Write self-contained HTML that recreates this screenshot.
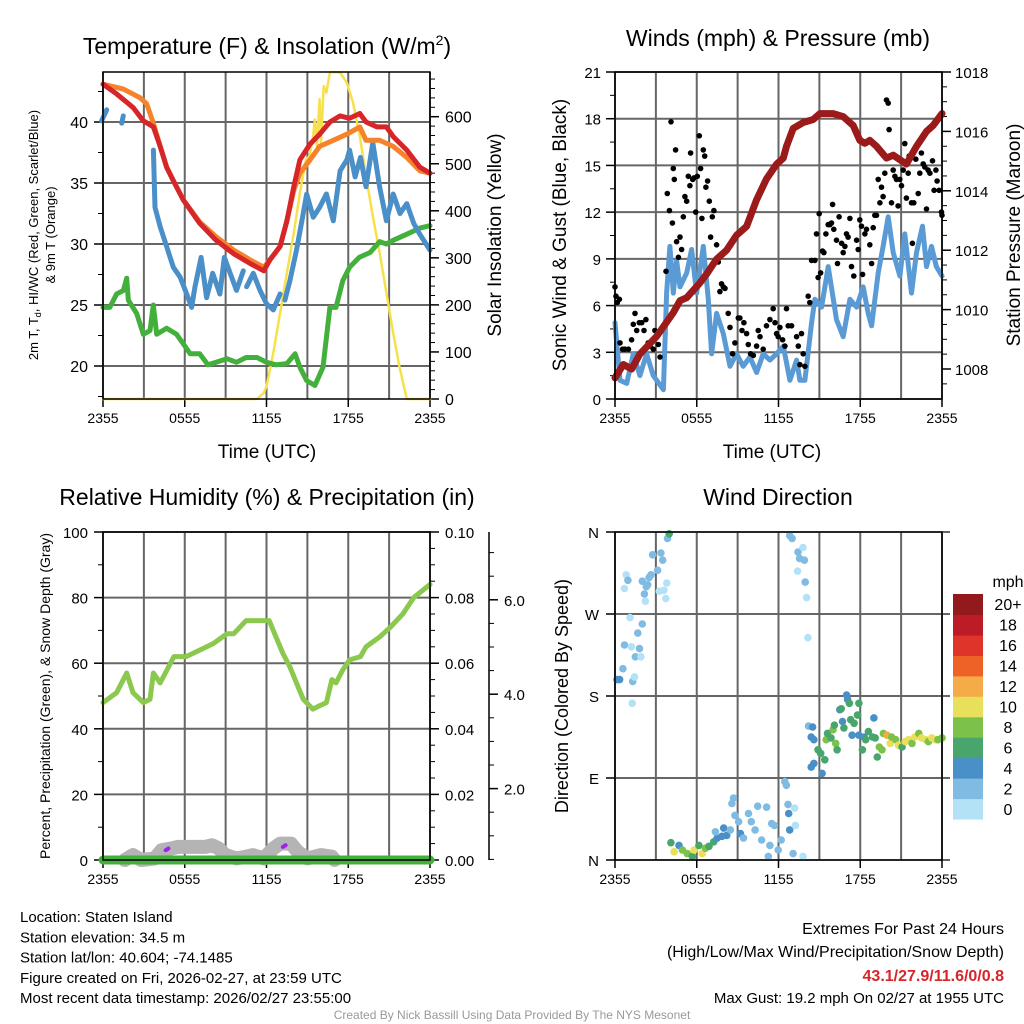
<!DOCTYPE html>
<html><head><meta charset="utf-8"><style>
html,body{margin:0;padding:0;background:#fff;}
svg{display:block;font-family:"Liberation Sans",sans-serif;}
</style></head><body>
<svg id="fig" xmlns="http://www.w3.org/2000/svg" width="1024" height="1024" viewBox="0 0 1024 1024"></svg>
<script>
// ---------- DATA ----------
// Panel 1: temperature
const tRed=[0,1.0,2.2,2.96,3.7,4.2,4.67,5.16,5.9,7.1,8.3,9.6,10.8,11.8,12.25,13.0,13.5,14.0,14.45,15.2,15.9,16.65,17.4,18.1,18.85,19.3,20.1,20.8,21.3,22.3,23.25,24];
const vRed=[43.1,42.3,41.2,40.1,39.6,38,36.3,35.2,33.6,31.7,30.3,29.2,28.4,27.8,28.7,29.8,31.9,34.7,36.9,38.2,39,40,40.5,40.3,40.7,40,39.6,39.6,38.8,37.7,36.3,35.8];
const tOrange=[0,1.5,2.7,3.2,3.7,4.2,4.67,5.16,5.9,7.1,8.3,9.6,10.8,11.8,12.25,13.0,13.5,14.0,14.45,15.2,15.9,16.9,17.9,18.85,19.3,20.3,21.3,22.3,23.25,24];
const vOrange=[43.1,42.7,42,41.5,39.9,38,36.3,35.2,33.6,31.8,30.6,29.5,28.7,28.1,28.7,29.8,31.9,34.4,35.8,36.9,38,38.5,39,39.6,38.5,38.5,38,37.1,36,35.8];
const tBlue=[-0.1,0.27,null,1.37,1.49,null,2.22,null,3.7,3.82,4.2,4.67,5.16,5.65,6.14,6.5,6.75,7.2,7.6,8.05,8.58,8.9,9.8,10.3,null,10.54,11.03,11.52,12.0,12.5,13.0,null,13.35,13.72,14.2,14.6,14.95,15.43,15.9,16.4,16.9,17.4,17.9,18.1,18.5,18.9,19.3,19.8,20.3,20.8,21.3,21.8,22.3,22.8,23.25,24];
const vBlue=[40.1,41,null,39.9,40.5,null,39.3,null,37.7,33,31.4,29.8,28.1,27.3,25.9,24.8,26.5,28.9,25.6,27.6,25.9,28.9,26.2,27.8,null,26.5,27.6,26.2,25.1,24.6,25.9,null,25.4,27,29.5,31.9,34.1,32.2,33,34.1,31.9,36,36.9,37.7,35.5,37.1,34.7,38.3,34.7,31.9,34.1,32.5,33.3,31.7,30.8,29.5];
const tGreen=[0,0.5,1.0,1.5,1.74,1.86,2.47,2.96,3.45,3.69,3.94,4.67,5.4,5.9,6.4,7.1,7.7,8.3,9.1,9.8,10.5,11.3,12.0,12.7,13.5,14.1,14.45,14.95,15.55,16.15,16.65,17.1,17.6,18.1,18.8,19.6,20.3,20.8,21.3,22.3,23.25,24];
const vGreen=[24.8,24.8,25.9,26.2,27.2,25.4,24.3,22.6,22.9,25,22.6,23.1,22.6,21.8,21,21,20.1,20.3,20.6,20.3,20.7,20.7,20.3,20.1,20.2,21,19.9,18.8,18.4,19.9,24.8,24.8,27,28.1,28.9,29.3,30.2,30,30.3,30.8,31.3,31.5];
const tSolar=[0,11.3,11.8,12.0,12.5,13.0,13.5,14.0,14.45,14.9,15.15,15.4,15.55,15.7,15.9,16.0,16.2,16.4,16.65,16.9,17.4,17.9,18.35,18.85,19.3,19.8,20.3,20.8,21.3,21.75,22.3,24];
const vSolar=[0,0,13,27,98,183,268,353,438,509,516,552,594,538,637,545,665,651,694,695,694,672,630,559,474,389,311,226,140,70,0,0];
const p1Left=[20,25,30,35,40];
const p1Right=[0,100,200,300,400,500,600];
const timeTicks=[0,6,12,18,24];
const timeLabels=["2355","0555","1155","1755","2355"];
// Panel 2: winds & pressure
const tPres=[0,0.61,1.22,1.83,3.06,4.28,4.77,5.26,6.23,6.72,7.46,8.19,8.92,9.66,10.39,11.12,11.86,12.35,12.59,13.08,13.81,14.55,15.04,16.01,16.75,17.48,17.97,18.34,18.7,19.19,19.93,20.42,21.39,22.13,22.86,23.35,24];
const vPres=[1007.7,1008.15,1008.0,1008.5,1009.1,1009.9,1010.3,1010.4,1010.9,1011.2,1011.7,1012.0,1012.5,1012.8,1013.7,1014.4,1014.9,1015.1,1015.5,1016.1,1016.3,1016.4,1016.6,1016.6,1016.5,1016.2,1015.7,1015.6,1015.7,1015.5,1015.1,1015.2,1014.9,1015.5,1016.0,1016.2,1016.6];
const tWind=[0,0.37,0.86,1.34,1.83,2.32,2.81,3.55,3.79,4.03,4.28,4.52,4.77,5.26,5.62,5.99,6.48,6.85,7.09,7.46,7.95,8.44,8.92,9.41,9.9,10.39,10.88,11.37,11.86,12.35,12.84,13.33,13.57,13.94,14.43,14.67,15.16,15.65,16.26,16.75,17.24,17.73,18.22,18.58,18.83,19.32,19.68,20.05,20.42,20.91,21.27,21.76,22.13,22.57,22.86,23.23,23.59,24];
const vWind=[4.9,1.2,1.0,2.9,1.5,2.9,1.5,0.6,6.8,9.8,6.8,8.9,7.2,8.1,9.6,6.8,9.8,6.4,2.9,5.5,4.2,2.1,2.9,2.1,2.7,1.7,2.9,2.5,2.9,3.4,1.2,2.5,1.2,1.2,4.9,6.4,5.9,8.5,5.1,4.0,6.4,5.9,7.2,5.5,4.7,8.1,9.8,11.7,9.4,7.9,10.6,6.8,9.4,11.1,8.5,9.8,8.5,7.9];
const tGust=[0,0.07,0.17,0.32,0.37,0.56,0.73,0.98,1.22,1.34,1.47,1.59,1.78,1.96,2.13,2.27,2.44,2.57,2.81,2.93,3.18,3.3,3.74,3.84,3.99,4.11,4.21,4.28,4.35,4.45,4.52,4.65,4.77,4.89,5.01,5.13,5.26,5.38,5.5,5.55,5.7,5.79,5.92,6.04,6.19,6.28,6.38,6.48,6.58,6.67,6.8,6.92,7.02,7.14,7.26,7.46,7.58,7.7,7.82,7.95,8.07,8.31,8.44,8.63,8.8,9.05,9.17,9.32,9.46,9.66,9.78,9.95,10.15,10.39,10.51,10.64,10.88,11.12,11.37,11.61,11.74,11.86,11.98,12.1,12.3,12.47,12.59,12.71,12.96,13.33,13.45,13.57,13.69,13.81,13.94,14.18,14.3,14.43,14.67,14.79,14.91,14.99,15.09,15.23,15.33,15.48,15.65,15.77,15.89,15.97,16.06,16.26,16.33,16.45,16.63,16.75,16.87,16.99,17.11,17.24,17.36,17.53,17.73,17.85,17.97,18.09,18.17,18.34,18.46,18.7,18.83,18.95,19.07,19.19,19.32,19.44,19.56,19.68,19.8,19.93,20.05,20.12,20.29,20.42,20.54,20.66,20.78,20.9,21.03,21.15,21.27,21.39,21.52,21.59,21.76,21.83,21.93,22.08,22.25,22.37,22.49,22.62,22.74,22.86,22.98,23.11,23.3,23.42,23.55,23.64,23.79,23.96,24.0];
const vGust=[7.2,6.6,6.2,6.4,3.6,3.2,3.2,3.2,3.8,4.8,5.5,4.4,4.9,4.9,4.4,5.1,3.6,3.4,3.2,4.4,3.5,2.7,8.2,13.2,12.1,17.8,11.3,14.8,14.1,16.0,10.1,9.1,10.4,9.6,11.7,13.0,12.7,14.3,13.7,15.8,14.1,14.2,12.0,14.3,16.9,14.8,11.6,16.0,15.6,13.6,14.0,12.7,10.4,11.7,12.1,9.9,8.8,6.9,7.4,7.2,7.1,5.5,4.6,2.9,3.6,5.2,5.2,4.4,4.9,4.2,3.5,2.9,2.8,3.4,4.4,4.0,3.2,4.7,5.1,5.8,4.9,4.2,4.0,4.6,3.8,3.4,5.8,4.7,4.7,4.0,3.4,2.2,4.2,2.9,2.1,6.6,6.2,8.9,8.9,10.6,7.8,11.9,8.1,9.5,9.4,10.6,11.2,11.2,11.3,12.5,10.9,10.2,8.7,11.7,10.0,9.4,9.8,10.6,10.4,11.6,8.5,7.9,10.2,9.6,11.5,11.1,8.0,10.6,10.9,9.9,8.7,11.0,11.8,11.8,14.1,12.6,13.6,13.0,14.5,19.2,19.0,17.3,12.6,14.7,14.3,14.1,12.4,14.1,13.7,14.7,16.4,12.9,14.5,15.6,12.6,10.0,12.6,15.4,13.2,14.5,15.8,15.1,14.9,12.2,14.7,14.5,15.3,13.4,14.7,14.0,13.4,12.0,11.8];
const p2Left=[0,3,6,9,12,15,18,21];
const p2Right=[1008,1010,1012,1014,1016,1018];
// Panel 3: RH, precip, snow
const tRH=[0,1.0,1.74,2.2,2.96,3.45,3.7,4.2,5.2,6.1,7.1,8.1,9.1,9.6,10.5,11.5,12.2,12.7,13.2,13.7,14.2,14.7,15.4,15.9,16.4,16.8,17.1,17.6,18.1,18.9,19.3,20.3,21.1,22.0,22.8,24];
const vRH=[48,51,57,51,48,49,57,54,62,62,64,66,69,69,73,73,73,68,63,59,54,49,46,47,48,55,54,58,61,62,65,68,71,75,80,84];
const tSnow=[1.6,2.2,2.8,3.8,4.3,5,5.5,6.5,7.5,8,8.5,9,9.8,10.5,11,11.8,12.5,13,13.8,14.3,15,16,16.8,17.0];
const vSnow=[0,1.5,0,0.5,3,3.5,4,4,4,4.5,3.5,1.5,0.5,1,1.5,0.5,3.5,5,5,2.5,0.5,1.5,1,0];
const tPrecip=[0,24];
const vPrecip=[0,0];
const tPurple=[4.6,13.2];
const vPurple=[3,4];
const p3Left=[0,20,40,60,80,100];
const p3Right=["0.00","0.02","0.04","0.06","0.08","0.10"];
const p3Snow=[2,4,6];
// Panel 4: wind direction
const tDir=[0.15,0.34,0.58,0.7,1.1,1.2,1.3,1.26,1.43,1.5,1.67,1.8,1.9,2.0,0.82,0.95,0.7,2.16,2.23,2.4,2.64,2.76,3.13,3.25,3.37,3.5,3.6,3.73,3.8,3.85,3.98,2.0,2.3,2.5,
 4.1,4.34,4.7,4.95,5.3,5.67,5.8,6.16,6.4,6.64,6.9,7.25,7.5,7.37,7.85,7.98,8.2,8.46,8.7,8.58,8.8,9.07,9.2,9.43,9.8,10.0,10.28,10.47,10.76,11.13,11.25,11.37,11.5,11.7,11.98,12.2,12.46,12.58,12.7,12.75,12.82,13.07,13.19,13.24,13.8,
 12.82,13.0,13.43,13.55,13.8,13.9,13.4,13.96,14.06,14.16,
 14.2,14.5,14.4,14.6,14.9,15.1,14.4,14.6,15.2,15.4,15.5,15.6,15.85,16.0,16.1,16.2,16.3,16.5,16.6,16.7,16.8,17.0,17.07,17.2,17.3,17.4,17.55,17.8,17.9,17.9,18.16,18.3,18.4,18.6,18.9,19.0,19.1,19.25,19.4,19.6,19.7,19.97,20.2,20.3,20.6,20.8,21.07,21.3,21.55,21.8,22.0,22.3,22.5,22.8,23.0,23.25,23.5,23.7,24.0];
const vDir=[198,198,210,236,266,234,196,172,201,223,249,232,223,259,313,307,298,292,284,302,313,335,318,295,337,329,296,287,304,353,358,306,300,310,
 19,9,16,11,7,4,11,16,7,13,15,20,24,31,26,35,27,33,68,62,49,42,29,24,51,42,33,59,22,58,4,16,40,38,11,22,86,82,61,51,33,7,57,38,4,
 356,353,338,331,343,329,317,305,288,244,
 147,146,135,132,121,117,102,106,95,110,132,139,134,143,148,128,121,165,166,152,145,181,176,172,154,137,150,159,172,137,121,135,132,141,135,156,134,113,124,121,139,137,128,135,132,126,124,130,132,128,135,139,134,132,130,134,132,132,134];
const sDir=[4,4,3,3,1,1,3,0,1,3,3,3,1,3,1,3,1,3,1,2,3,2,3,1,2,2,1,1,1,3,6,2,2,2,
 6,10,4,8,8,6,10,6,10,8,6,6,4,2,4,4,4,2,2,2,2,2,4,2,2,2,2,2,2,2,2,2,2,2,2,2,2,2,2,4,4,2,1,1,1,
 2,2,2,2,1,2,1,2,1,1,
 2,4,4,4,6,6,4,4,4,6,8,6,6,8,6,8,6,4,6,4,6,4,4,6,6,4,6,6,6,4,6,4,6,6,6,4,6,6,8,8,8,12,10,8,8,10,6,10,10,8,10,8,10,10,8,10,10,8,8];
const dirTicks=[0,90,180,270,360];
const dirLabels=["N","E","S","W","N"];
const cbLabels=["0","2","4","6","8","10","12","14","16","18","20+"];
const cbColors=["#b3e2f7","#7fbbe3","#4a90c8","#48a56b","#7cc24a","#e8e05a","#f6ab49","#ee6228","#de3429","#bc1c26","#921a1d"];

// ---------- HELPERS ----------
const NS="http://www.w3.org/2000/svg";
const svg=document.getElementById('fig');
function mk(tag,attrs,parent){const e=document.createElementNS(NS,tag);for(const k in attrs)e.setAttribute(k,attrs[k]);(parent||svg).appendChild(e);return e;}
function group(name){const g=mk('g',{});


return g;}
function txt(p,x,y,s,size,name,opts){opts=opts||{};const e=mk('text',{x:x,y:y,'font-size':size,fill:opts.fill||'#000','text-anchor':opts.anchor||'middle'},p);
if(opts.rot)e.setAttribute('transform','rotate(-90 '+x+' '+y+')');
if(opts.bold)e.setAttribute('font-weight','bold');
e.textContent=s;


return e;}
function seg(p,x1,y1,x2,y2,c,w){return mk('line',{x1:x1,y1:y1,x2:x2,y2:y2,stroke:c,'stroke-width':w},p);}
function path(p,ts,vs,fx,fy,color,w,name){let d='',pen=false;for(let i=0;i<ts.length;i++){if(ts[i]===null||vs[i]===null){pen=false;continue;}d+=(pen?'L':'M')+fx(ts[i]).toFixed(1)+','+fy(vs[i]).toFixed(1);pen=true;}
const e=mk('path',{d:d,fill:'none',stroke:color,'stroke-width':w,'stroke-linejoin':'round','stroke-linecap':'round'},p);


return e;}
function frame(p,x0,x1,y0,y1){mk('rect',{x:x0,y:y0,width:x1-x0,height:y1-y0,fill:'none',stroke:'#000','stroke-width':1.5},p);}
function timeAxis(p,fx,y1,y0,name){timeTicks.forEach((t,i)=>{seg(p,fx(t),y1,fx(t),y1+8,'#000',1.5);txt(p,fx(t),y1+24,timeLabels[i],14,name+'-tick-'+timeLabels[i]);});
for(let t=0;t<=24;t+=3){seg(p,fx(t),y0,fx(t),y1,'#666',2);}}

// ---------- PANEL 1 ----------
(function(){
const g=group('temperature-panel');
const X0=103,X1=430,Y0=72,Y1=399;
const fx=t=>X0+t*(X1-X0)/24;
const fy=v=>366-(v-20)*12.2;
const fs=v=>399-v*0.4705;
p1Left.forEach(v=>seg(g,X0,fy(v),X1,fy(v),'#666',2));
timeAxis(g,fx,Y1,Y0,'temp-x');
for(let v=17.5;v<=44;v+=2.5){seg(g,X0-5,fy(v),X0,fy(v),'#000',1);}
p1Left.forEach(v=>{seg(g,X0-9,fy(v),X0,fy(v),'#000',1.5);txt(g,X0-15,fy(v)+6,String(v),16,'temp-y-tick-'+v,{anchor:'end'});});
for(let v=0;v<=690;v+=20){seg(g,X1,fs(v),X1+5,fs(v),'#000',1);}
p1Right.forEach(v=>{seg(g,X1,fs(v),X1+9,fs(v),'#000',1.5);txt(g,X1+15,fs(v)+6,String(v),16,'insolation-y-tick-'+v,{anchor:'start'});});
path(g,tSolar,vSolar,fx,fs,'#f8e04a',2.5,'insolation-line');
path(g,tGreen,vGreen,fx,fy,'#44b03c',5,'dewpoint-line');
path(g,tBlue,vBlue,fx,fy,'#4a8fc8',5,'heat-index-windchill-line');
path(g,tOrange,vOrange,fx,fy,'#f6832c',5,'temp-9m-line');
path(g,tRed,vRed,fx,fy,'#d7262a',5,'temp-2m-line');
frame(g,X0,X1,Y0,Y1);
const ti=txt(g,267,54,'Temperature (F) & Insolation (W/m',23,'temp-title');
const sup=mk('tspan',{'font-size':14,dy:-9},ti);sup.textContent='2';
const cl=mk('tspan',{dy:9},ti);cl.textContent=')';
const yl=txt(g,38,235,'2m T, T',13,'temp-y-title',{rot:true});
const sb=mk('tspan',{'font-size':9,dy:3},yl);sb.textContent='d';
const rest=mk('tspan',{dy:-3},yl);rest.textContent=', HI/WC (Red, Green, Scarlet/Blue)';
txt(g,55,235,'& 9m T (Orange)',13,'temp-y-title-2',{rot:true});
txt(g,501,235,'Solar Insolation (Yellow)',19,'insolation-y-title',{rot:true});
txt(g,267,458,'Time (UTC)',19,'temp-x-title');
})();

// ---------- PANEL 2 ----------
(function(){
const g=group('winds-panel');
const X0=615,X1=942,Y0=72,Y1=399;
const fx=t=>X0+t*(X1-X0)/24;
const fy=v=>399-v*(327/21);
const fp=v=>369-(v-1008)*29.7;
p2Left.forEach(v=>seg(g,X0,fy(v),X1,fy(v),'#666',2));
timeAxis(g,fx,Y1,Y0,'wind-x');
for(let v=1.5;v<21;v+=3){seg(g,X0-5,fy(v),X0,fy(v),'#000',1);}
p2Left.forEach(v=>{seg(g,X0-9,fy(v),X0,fy(v),'#000',1.5);txt(g,X0-14,fy(v)+6,String(v),15,'wind-y-tick-'+v,{anchor:'end'});});
for(let v=1007.5;v<=1018;v+=0.5){seg(g,X1,fp(v),X1+5,fp(v),'#000',1);}
p2Right.forEach(v=>{seg(g,X1,fp(v),X1+9,fp(v),'#000',1.5);txt(g,X1+13,fp(v)+6,String(v),15,'pressure-y-tick-'+v,{anchor:'start'});});
path(g,tWind,vWind,fx,fy,'#5b9bd5',5,'sonic-wind-line');
for(let i=0;i<tGust.length;i++){const c=mk('circle',{cx:fx(tGust[i]).toFixed(1),cy:fy(vGust[i]).toFixed(1),r:2.8,fill:'#000'},g);

}
path(g,tPres,vPres,fx,fp,'#9b1b1b',7,'pressure-line');
frame(g,X0,X1,Y0,Y1);
txt(g,778,46,'Winds (mph) & Pressure (mb)',23,'winds-title');
txt(g,566,235,'Sonic Wind & Gust (Blue, Black)',19,'wind-y-title',{rot:true});
txt(g,1020,235,'Station Pressure (Maroon)',19,'pressure-y-title',{rot:true});
txt(g,772,458,'Time (UTC)',19,'wind-x-title');
})();

// ---------- PANEL 3 ----------
(function(){
const g=group('humidity-panel');
const X0=103,X1=430,Y0=532,Y1=860;
const fx=t=>X0+t*(X1-X0)/24;
const fy=v=>860-v*3.28;
const fsn=v=>883-v*47.2;
p3Left.forEach(v=>seg(g,X0,fy(v),X1,fy(v),'#666',2));
timeAxis(g,fx,Y1,Y0,'rh-x');
for(let v=10;v<100;v+=20){seg(g,X0-5,fy(v),X0,fy(v),'#000',1);}
p3Left.forEach(v=>{seg(g,X0-9,fy(v),X0,fy(v),'#000',1.5);txt(g,X0-15,fy(v)+6,String(v),15,'rh-y-tick-'+v,{anchor:'end'});});
for(let v=5;v<100;v+=5){seg(g,X1,fy(v),X1+5,fy(v),'#000',1);}
p3Right.forEach((s,i)=>{const y=fy(i*20);seg(g,X1,y,X1+9,y,'#000',1.5);txt(g,X1+15,y+6,s,15,'precip-y-tick-'+s,{anchor:'start'});});
seg(g,489,Y0,489,Y1,'#000',1.5);
for(let v=0.5;v<=7;v+=0.5){const y=fsn(v);if(y>Y0&&y<Y1)seg(g,489,y,494,y,'#000',1);}
p3Snow.forEach(v=>{seg(g,489,fsn(v),498,fsn(v),'#000',1.5);txt(g,504,fsn(v)+6,v.toFixed(1),15,'snow-y-tick-'+v,{anchor:'start'});});
path(g,tSnow,vSnow,fx,fy,'#b4b4b4',14,'snow-depth-area');
path(g,tPurple.slice(0,1).concat([tPurple[0]+0.2]),vPurple.slice(0,1).concat([vPurple[0]+0.5]),fx,fy,'#a020f0',4,'precip-rate-blob-1');
path(g,tPurple.slice(1).concat([tPurple[1]+0.2]),vPurple.slice(1).concat([vPurple[1]+0.5]),fx,fy,'#a020f0',4,'precip-rate-blob-2');
path(g,tPrecip,vPrecip,fx,fy,'#44b03c',9,'precipitation-line');
path(g,tRH,vRH,fx,fy,'#8bc94e',5,'relative-humidity-line');
frame(g,X0,X1,Y0,Y1);
txt(g,267,505,'Relative Humidity (%) & Precipitation (in)',23,'rh-title');
txt(g,50,696,'Percent, Precipitation (Green), & Snow Depth (Gray)',14,'rh-y-title',{rot:true});
})();

// ---------- PANEL 4 ----------
(function(){
const g=group('wind-direction-panel');
const X0=615,X1=942,Y0=532,Y1=860;
const fx=t=>X0+t*(X1-X0)/24;
const fy=v=>860-v*(328/360);
dirTicks.forEach(v=>seg(g,X0,fy(v),X1+8,fy(v),'#333',1.5));
timeAxis(g,fx,Y1,Y0,'dir-x');
dirTicks.forEach((v,i)=>{seg(g,X0-9,fy(v),X0,fy(v),'#000',1.5);txt(g,X0-16,fy(v)+6,dirLabels[i],15,'dir-y-tick-'+i,{anchor:'end'});});
for(let i=0;i<tDir.length;i++){const k=Math.min(10,Math.floor(sDir[i]/2));
const c=mk('circle',{cx:fx(tDir[i]).toFixed(1),cy:fy(vDir[i]).toFixed(1),r:3.8,fill:cbColors[k]},g);

}
frame(g,X0,X1,Y0,Y1);
txt(g,778,505,'Wind Direction',23,'direction-title');
txt(g,568,696,'Direction (Colored By Speed)',18,'direction-y-title',{rot:true});
const cb=group('speed-colorbar');
const h=225/11;
for(let i=0;i<11;i++){const y=819-(i+1)*h;mk('rect',{x:953,y:y.toFixed(1),width:30,height:(h+0.5).toFixed(1),fill:cbColors[i]},cb);
txt(cb,1008,y+h/2+6,cbLabels[i],16,'colorbar-label-'+cbLabels[i]);}
txt(cb,1008,587,'mph',16,'colorbar-title');
})();

// ---------- FOOTER ----------
(function(){
const g=group('footer');
const L=["Location: Staten Island","Station elevation: 34.5 m","Station lat/lon: 40.604; -74.1485","Figure created on Fri, 2026-02-27, at 23:59 UTC","Most recent data timestamp: 2026/02/27 23:55:00"];
L.forEach((s,i)=>txt(g,20,922+i*20.3,s,15,'station-info-'+i,{anchor:'start'}));
txt(g,1004,934,'Extremes For Past 24 Hours',16,'extremes-title',{anchor:'end'});
txt(g,1004,957,'(High/Low/Max Wind/Precipitation/Snow Depth)',16,'extremes-subtitle',{anchor:'end'});
txt(g,1004,981,'43.1/27.9/11.6/0/0.8',16,'extremes-values',{anchor:'end',fill:'#d7262a',bold:true});
txt(g,1004,1003,'Max Gust: 19.2 mph On 02/27 at 1955 UTC',15,'max-gust',{anchor:'end'});
txt(g,512,1019,'Created By Nick Bassill Using Data Provided By The NYS Mesonet',12,'credit',{fill:'#999'});
})();
</script>
</body></html>
